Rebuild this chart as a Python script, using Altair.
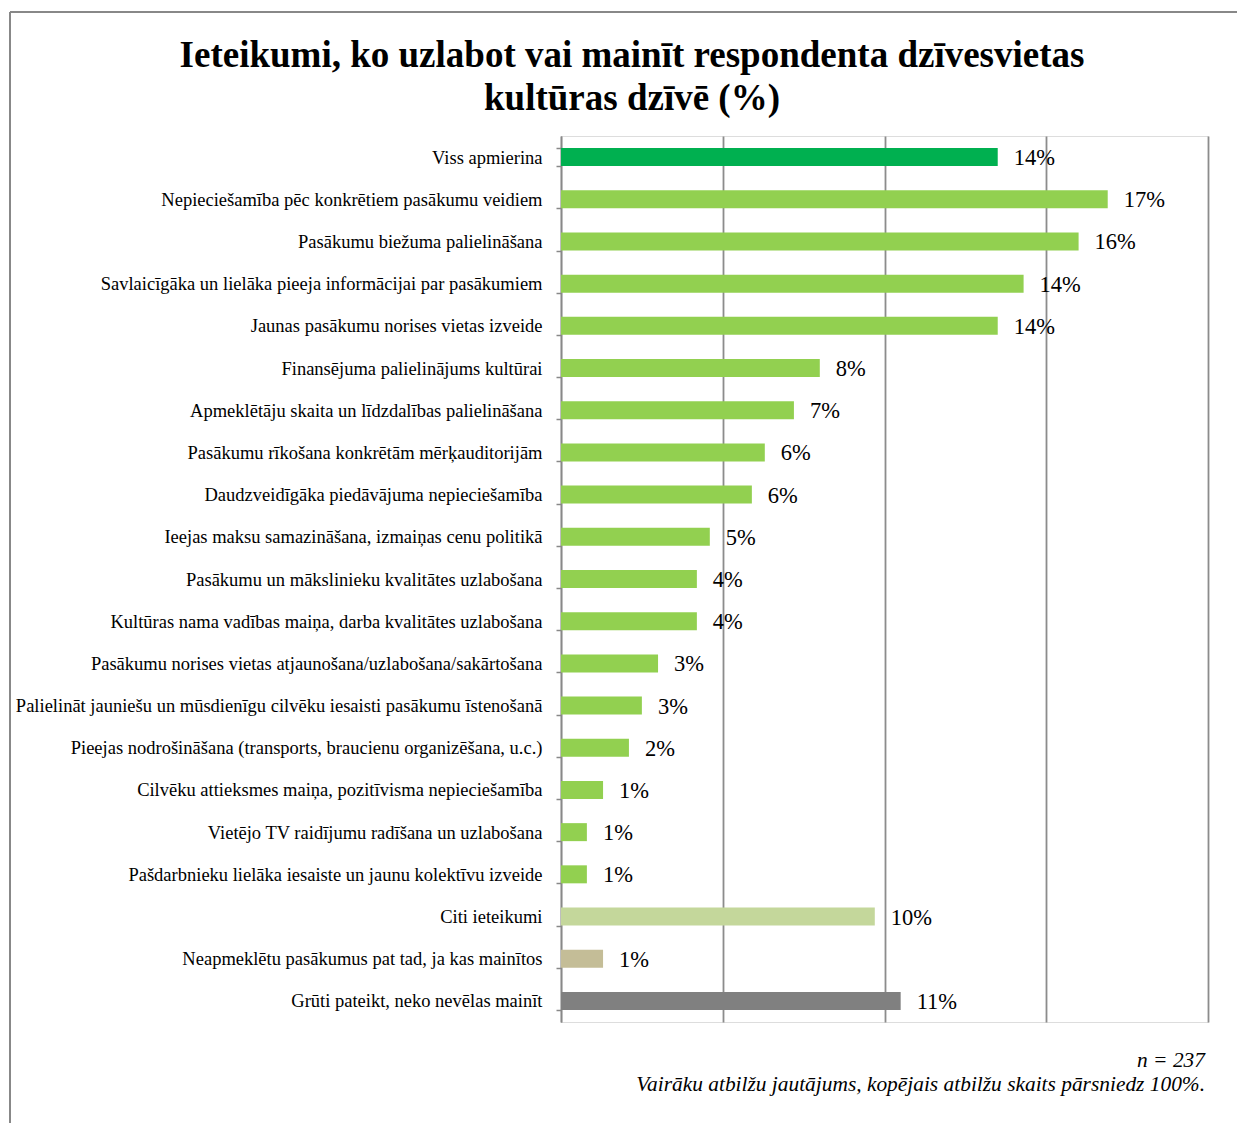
import altair as alt
import pandas as pd

categories = [
    "Viss apmierina",
    "Nepieciešamība pēc konkrētiem pasākumu veidiem",
    "Pasākumu biežuma palielināšana",
    "Savlaicīgāka un lielāka pieeja informācijai par  pasākumiem",
    "Jaunas pasākumu norises vietas izveide",
    "Finansējuma palielinājums kultūrai",
    "Apmeklētāju skaita un līdzdalības palielināšana",
    "Pasākumu rīkošana konkrētām mērķauditorijām",
    "Daudzveidīgāka piedāvājuma nepieciešamība",
    "Ieejas maksu samazināšana, izmaiņas cenu politikā",
    "Pasākumu un mākslinieku kvalitātes uzlabošana",
    "Kultūras nama vadības maiņa, darba kvalitātes uzlabošana",
    "Pasākumu norises vietas atjaunošana/uzlabošana/sakārtošana",
    "Palielināt jauniešu un mūsdienīgu cilvēku iesaisti pasākumu īstenošanā",
    "Pieejas nodrošināšana (transports, braucienu organizēšana, u.c.)",
    "Cilvēku attieksmes maiņa, pozitīvisma nepieciešamība",
    "Vietējo TV raidījumu radīšana un uzlabošana",
    "Pašdarbnieku lielāka iesaiste un jaunu kolektīvu izveide",
    "Citi ieteikumi",
    "Neapmeklētu pasākumus pat tad, ja kas mainītos",
    "Grūti pateikt, neko nevēlas mainīt",
]
values = [13.5, 16.9, 16.0, 14.3, 13.5, 8.0, 7.2, 6.3, 5.9, 4.6, 4.2, 4.2,
          3.0, 2.5, 2.1, 1.3, 0.8, 0.8, 9.7, 1.3, 10.5]
labels = ["14%", "17%", "16%", "14%", "14%", "8%", "7%", "6%", "6%", "5%", "4%",
          "4%", "3%", "3%", "2%", "1%", "1%", "1%", "10%", "1%", "11%"]
groups = ["satisfied"] + ["suggestion"] * 17 + ["other", "never", "dontknow"]
group_domain = ["satisfied", "suggestion", "other", "never", "dontknow"]
group_colors = ["#00B050", "#92D050", "#C4D79B", "#C4BD97", "#808080"]

title_lines = ["Ieteikumi, ko uzlabot vai mainīt respondenta dzīvesvietas",
               "kultūras dzīvē (%)"]
footer_lines = ["n = 237",
                "Vairāku atbilžu jautājums, kopējais atbilžu skaits pārsniedz 100%."]

df = pd.DataFrame({"cat": categories, "val": values, "lab": labels, "grp": groups})

W, H = 647, 886
SERIF = "Liberation Serif"

y_enc = alt.Y("cat:N", sort=categories, title=None,
              scale=alt.Scale(paddingInner=0.57, paddingOuter=0.285),
              axis=alt.Axis(labelFont=SERIF, labelFontSize=18.5, labelColor="#000000",
                            labelPadding=14, labelLimit=600, tickBand="extent",
                            tickSize=5, tickColor="#888888", tickWidth=1.5,
                            domainColor="#888888", domainWidth=1.5))
x_enc = alt.X("val:Q", title=None,
              scale=alt.Scale(domain=[0, 20], nice=False),
              axis=alt.Axis(values=[0, 5, 10, 15, 20], labels=False, ticks=False,
                            domain=False, grid=True, gridColor="#8c8c8c",
                            gridWidth=1.8))

base = alt.Chart(df)
bars = base.mark_bar(size=18).encode(
    x=x_enc, y=y_enc,
    color=alt.Color("grp:N", scale=alt.Scale(domain=group_domain, range=group_colors),
                    legend=None),
)
texts = base.mark_text(align="left", baseline="middle", dx=16, dy=1, font=SERIF,
                       fontSize=22.5, color="#000000").encode(
    x="val:Q", y=alt.Y("cat:N", sort=categories), text="lab:N")


def fixed_text(txt, x, y, **kw):
    return alt.Chart(pd.DataFrame({"t": [txt]})).mark_text(
        font=SERIF, color="#000000", baseline="alphabetic", **kw).encode(
        x=alt.value(x), y=alt.value(y), text="t:N")


title1 = fixed_text(title_lines[0], 71, -69, align="center", fontSize=37, fontWeight="bold")
title2 = fixed_text(title_lines[1], 71, -26, align="center", fontSize=37, fontWeight="bold")
foot1 = fixed_text(footer_lines[0], 644, 931, align="right", fontStyle="italic", fontSize=21.4)
foot2 = fixed_text(footer_lines[1], 644, 955, align="right", fontStyle="italic", fontSize=21.4)

frame_left = alt.Chart(pd.DataFrame({"k": [0]})).mark_rule(
    color="#888888", strokeWidth=2).encode(
    x=alt.value(-551), y=alt.value(-124), y2=alt.value(1000))
frame_top = alt.Chart(pd.DataFrame({"k": [0]})).mark_rule(
    color="#888888", strokeWidth=2).encode(
    x=alt.value(-551), x2=alt.value(700), y=alt.value(-124))

chart = alt.layer(bars, texts, title1, title2, foot1, foot2, frame_left, frame_top).properties(
    width=W, height=H,
    autosize=alt.AutoSizeParams(type="none"),
    padding={"left": 553, "top": 128, "right": 29, "bottom": 101},
).configure_view(stroke=None).configure(background="white")

chart.save("out.html", embed_options={"renderer": "svg", "actions": False})
